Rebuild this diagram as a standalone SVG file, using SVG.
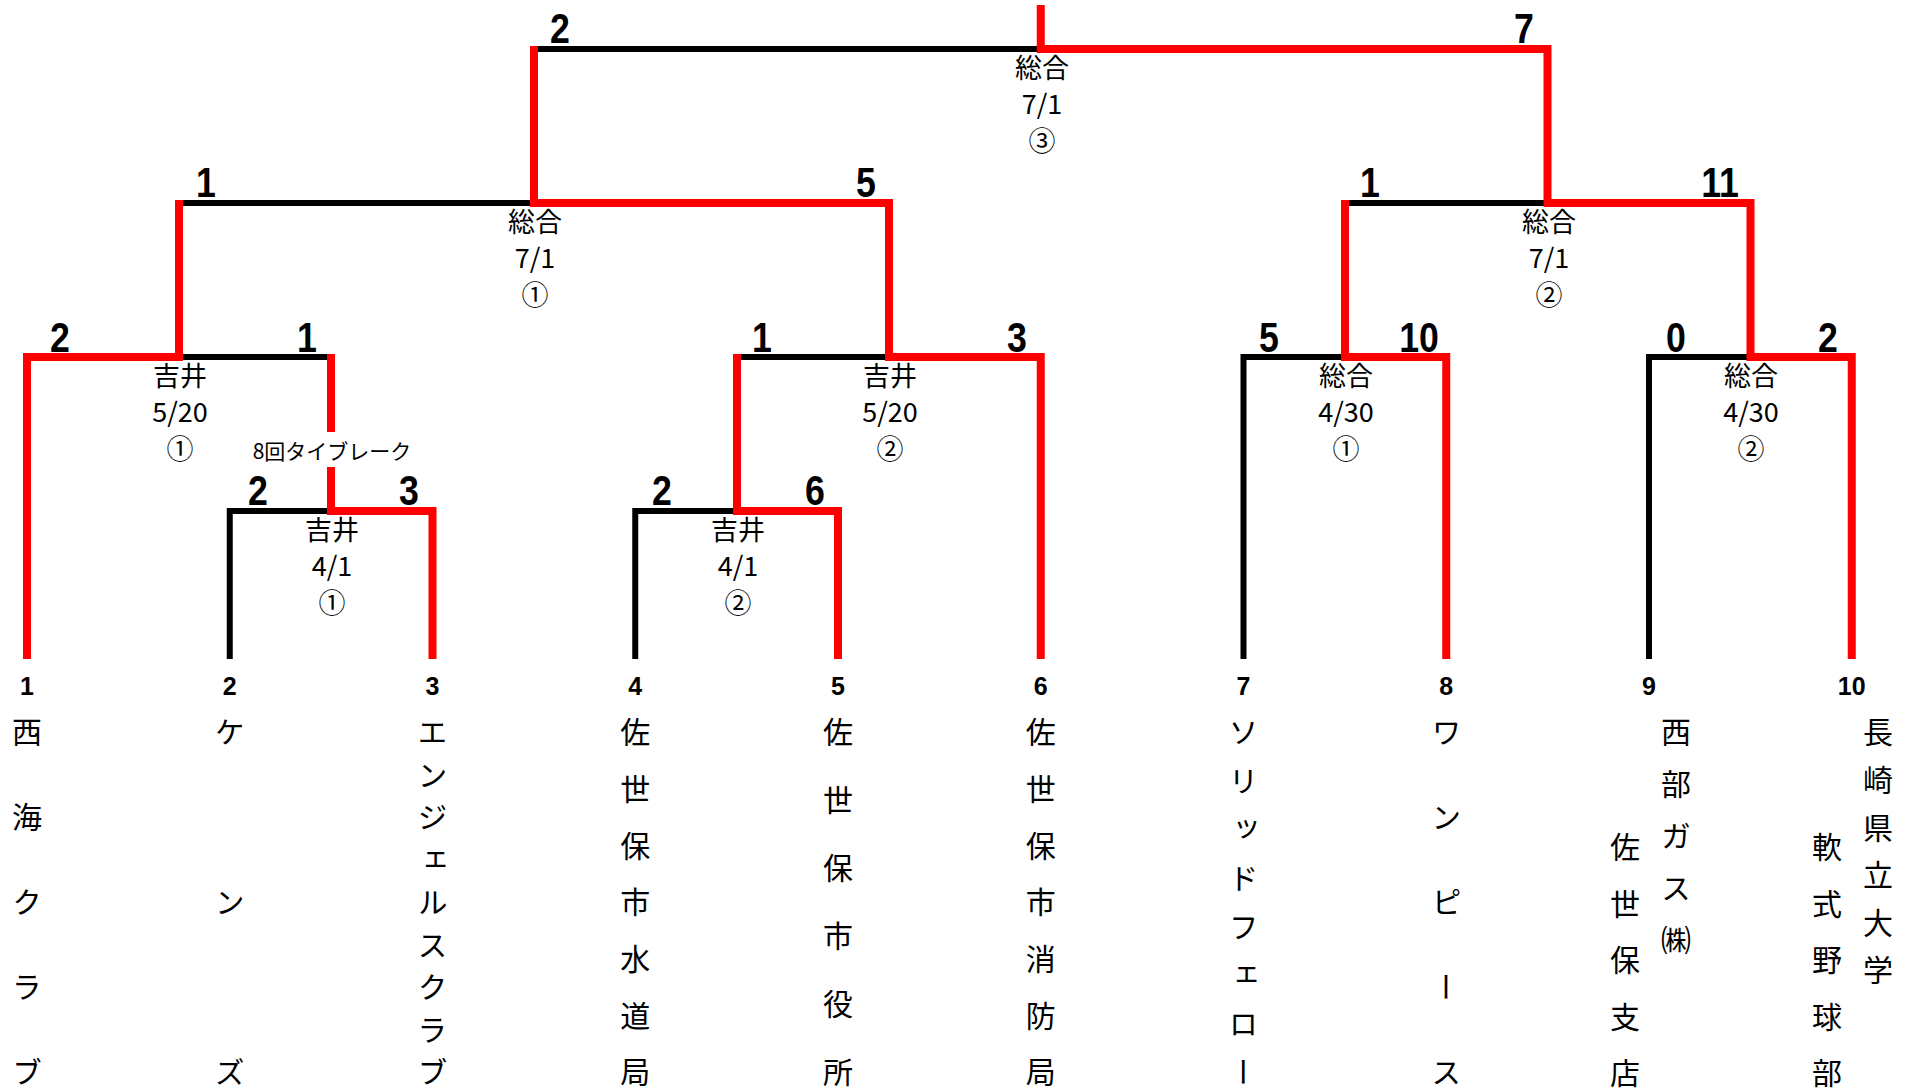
<svg xmlns="http://www.w3.org/2000/svg" width="1912" height="1092" viewBox="0 0 1912 1092">
<style>
.bk{fill:none;stroke:#000;stroke-width:6;stroke-linejoin:miter;stroke-linecap:butt}
.rd{fill:none;stroke:#ff0000;stroke-width:8;stroke-linejoin:miter;stroke-linecap:butt}
.v{font-family:"Noto Sans CJK JP","Noto Sans CJK SC",sans-serif;font-size:27px;text-anchor:middle;fill:#000}
.c{font-family:"Noto Sans CJK JP","Noto Sans CJK SC",sans-serif;font-size:27px;text-anchor:middle;fill:#000}
.tb{font-family:"Noto Sans CJK JP","Noto Sans CJK SC",sans-serif;font-size:21px;text-anchor:middle;fill:#000}
.s{font-family:"Liberation Sans",Arial,sans-serif;font-weight:bold;font-size:42px;text-anchor:middle;fill:#000}
.n{font-family:"Liberation Sans",Arial,sans-serif;font-weight:bold;font-size:25px;text-anchor:middle;fill:#000}
.t{font-family:"Noto Sans CJK JP","Noto Sans CJK SC",sans-serif;font-size:30px;writing-mode:vertical-rl;fill:#000}
</style>
<rect width="1912" height="1092" fill="#fff"/>
<g id="connectors">
<path class="bk" d="M229.75,659 V511 H331"/>
<path class="bk" d="M635.25,659 V511 H737"/>
<path class="bk" d="M179,357 H331"/>
<path class="bk" d="M737,357 H889"/>
<path class="bk" d="M1243.5,659 V357 H1345"/>
<path class="bk" d="M1649,659 V357 H1750.5"/>
<path class="bk" d="M179,203 H534"/>
<path class="bk" d="M1345,203 H1547.5"/>
<path class="bk" d="M534,49 H1040.75"/>
<path class="rd" d="M27,659 V357 H179 V200"/>
<path class="rd" d="M432.5,659 V511 H331 V467 M331,432 V354"/>
<path class="rd" d="M838,659 V511 H737 V354"/>
<path class="rd" d="M1040.75,659 V357 H889 V203 H534 V46"/>
<path class="rd" d="M1446.25,659 V357 H1345 V200"/>
<path class="rd" d="M1851.75,659 V357 H1750.5 V203 H1547.5 V49 H1040.75 V5"/>
</g>
<g id="match-final">
<text class="s" transform="translate(560,43) scale(0.85,1)">2</text>
<text class="s" transform="translate(1524,43) scale(0.85,1)">7</text>
<text class="v" x="1042" y="78">総合</text>
<text class="v" x="1042" y="114">7/1</text>
<text class="c" x="1042" y="151">③</text>
</g>
<g id="match-semi1">
<text class="s" transform="translate(206,197) scale(0.85,1)">1</text>
<text class="s" transform="translate(866,197) scale(0.85,1)">5</text>
<text class="v" x="535" y="232">総合</text>
<text class="v" x="535" y="268">7/1</text>
<text class="c" x="535" y="305">①</text>
</g>
<g id="match-semi2">
<text class="s" transform="translate(1370,197) scale(0.85,1)">1</text>
<text class="s" transform="translate(1720,197) scale(0.85,1)">11</text>
<text class="v" x="1549" y="232">総合</text>
<text class="v" x="1549" y="268">7/1</text>
<text class="c" x="1549" y="305">②</text>
</g>
<g id="match-q1">
<text class="s" transform="translate(60,352) scale(0.85,1)">2</text>
<text class="s" transform="translate(307,352) scale(0.85,1)">1</text>
<text class="v" x="180" y="386">吉井</text>
<text class="v" x="180" y="422">5/20</text>
<text class="c" x="180" y="459">①</text>
</g>
<g id="match-q2">
<text class="s" transform="translate(762,352) scale(0.85,1)">1</text>
<text class="s" transform="translate(1017,352) scale(0.85,1)">3</text>
<text class="v" x="890" y="386">吉井</text>
<text class="v" x="890" y="422">5/20</text>
<text class="c" x="890" y="459">②</text>
</g>
<g id="match-q3">
<text class="s" transform="translate(1269,352) scale(0.85,1)">5</text>
<text class="s" transform="translate(1419,352) scale(0.85,1)">10</text>
<text class="v" x="1346" y="386">総合</text>
<text class="v" x="1346" y="422">4/30</text>
<text class="c" x="1346" y="459">①</text>
</g>
<g id="match-q4">
<text class="s" transform="translate(1676,352) scale(0.85,1)">0</text>
<text class="s" transform="translate(1828,352) scale(0.85,1)">2</text>
<text class="v" x="1751" y="386">総合</text>
<text class="v" x="1751" y="422">4/30</text>
<text class="c" x="1751" y="459">②</text>
</g>
<g id="match-r1a">
<text class="tb" x="332" y="459">8回タイブレーク</text>
<text class="s" transform="translate(258,505) scale(0.85,1)">2</text>
<text class="s" transform="translate(409,505) scale(0.85,1)">3</text>
<text class="v" x="332" y="540">吉井</text>
<text class="v" x="332" y="576">4/1</text>
<text class="c" x="332" y="613">①</text>
</g>
<g id="match-r1b">
<text class="s" transform="translate(662,505) scale(0.85,1)">2</text>
<text class="s" transform="translate(815,505) scale(0.85,1)">6</text>
<text class="v" x="738" y="540">吉井</text>
<text class="v" x="738" y="576">4/1</text>
<text class="c" x="738" y="613">②</text>
</g>
<g id="team1">
<text class="n" x="27" y="695">1</text>
<text class="t" x="27" y="717 802 887 972 1057">西海クラブ</text>
</g>
<g id="team2">
<text class="n" x="229.75" y="695">2</text>
<text class="t" x="229.75" y="717 887 1057">ケンズ</text>
</g>
<g id="team3">
<text class="n" x="432.5" y="695">3</text>
<text class="t" x="432.5" y="717 759.5 802 844.5 887 929.5 972 1014.5 1057">エンジェルスクラブ</text>
</g>
<g id="team4">
<text class="n" x="635.25" y="695">4</text>
<text class="t" x="635.25" y="717 773.7 830.3 887 943.7 1000.3 1057">佐世保市水道局</text>
</g>
<g id="team5">
<text class="n" x="838" y="695">5</text>
<text class="t" x="838" y="717 785 853 921 989 1057">佐世保市役所</text>
</g>
<g id="team6">
<text class="n" x="1040.75" y="695">6</text>
<text class="t" x="1040.75" y="717 773.7 830.3 887 943.7 1000.3 1057">佐世保市消防局</text>
</g>
<g id="team7">
<text class="n" x="1243.5" y="695">7</text>
<text class="t" x="1243.5" y="717 765.6 814.1 862.7 911.3 959.9 1008.4 1057">ソリッドフェロー</text>
</g>
<g id="team8">
<text class="n" x="1446.25" y="695">8</text>
<text class="t" x="1446.25" y="717 802 887 972 1057">ワンピース</text>
</g>
<g id="team9">
<text class="n" x="1649" y="695">9</text>
<text class="t" x="1676" y="717 769 821 873 925">西部ガス㈱</text>
<text class="t" x="1625" y="832 888.5 945 1001.5 1058">佐世保支店</text>
</g>
<g id="team10">
<text class="n" x="1851.75" y="695">10</text>
<text class="t" x="1878" y="717 764.6 812.2 859.8 907.4 955">長崎県立大学</text>
<text class="t" x="1827" y="832 888.5 945 1001.5 1058">軟式野球部</text>
</g>
</svg>
